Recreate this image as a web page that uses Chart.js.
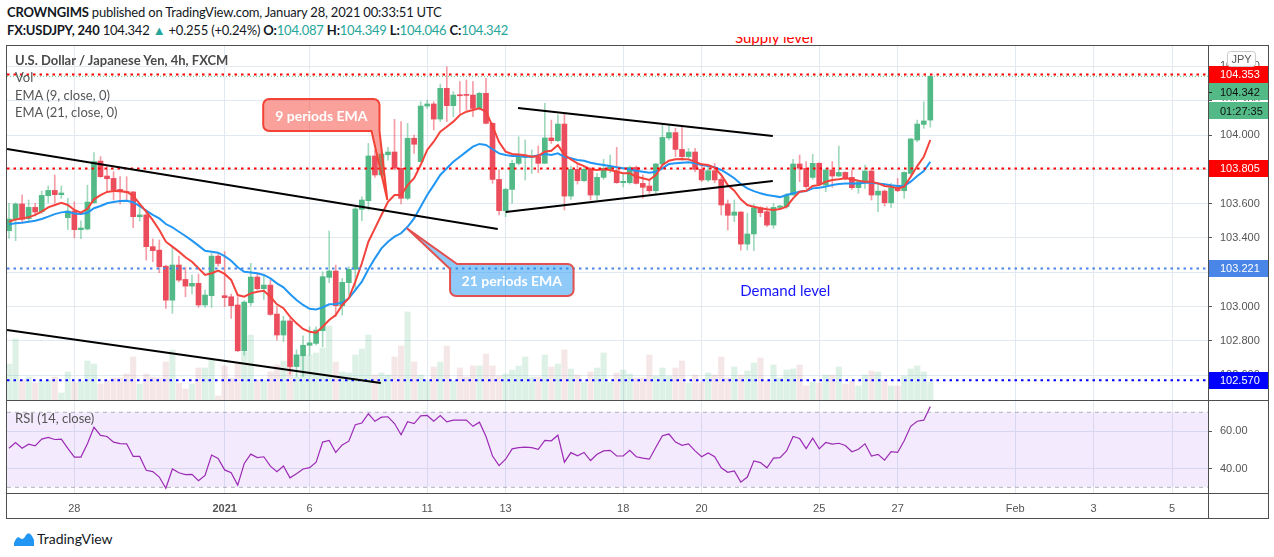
<!DOCTYPE html>
<html>
<head>
<meta charset="utf-8">
<title>USDJPY 4h</title>
<script src="https://cdn.jsdelivr.net/npm/chart.js"></script>
<style>
    body { margin: 0; background: #fff; width: 1274px; height: 557px; overflow: hidden; position: relative; font-family: Lato, "Liberation Sans", sans-serif; }
    .abs { position: absolute; white-space: nowrap; }
    #hdr1 { left: 7px; top: 4px; font-size: 13px; letter-spacing: -0.2px; color: #131722; }
    #hdr2 { left: 7px; top: 22px; font-size: 13px; letter-spacing: -0.2px; color: #131722; }
    .up { color: #26a69a; }
    .ln { position: absolute; background: #4f4f4f; z-index: 5; }
    canvas { position: absolute; left: 0; }
    .legend { left: 15px; font-size: 13px; color: #555; z-index: 4; }
    #supplyClip { left: 700px; top: 37px; width: 160px; height: 8px; overflow: hidden; }
    #supplyClip span { position: absolute; left: 35px; top: -9px; font-size: 15px; color: #f00; }
    #tvlogo { left: 14px; top: 530px; font-size: 14px; color: #131722; display: flex; align-items: center; gap: 3px; }
</style>
</head>
<body>
<div id="hdr1" class="abs"><b>CROWNGIMS</b> published on TradingView.com, January 28, 2021 00:33:51 UTC</div>
<div id="hdr2" class="abs"><b>FX:USDJPY, 240</b> 104.342 <span class="up">&#9650;</span> +0.255 (+0.24%) <b>O:</b><span class="up">104.087</span> <b>H:</b><span class="up">104.349</span> <b>L:</b><span class="up">104.046</span> <b>C:</b><span class="up">104.342</span></div>
<div id="supplyClip" class="abs"><span>Supply level</span></div>

<canvas id="mainChart" width="1268" height="354" style="top:46px"></canvas>
<canvas id="rsiChart" width="1268" height="117" style="top:401px"></canvas>

<div class="abs legend" style="top:52px;font-weight:bold;color:#4a4a4a">U.S. Dollar / Japanese Yen, 4h, FXCM</div>
<div class="abs legend" style="top:69px">Vol</div>
<div class="abs legend" style="top:87px">EMA (9, close, 0)</div>
<div class="abs legend" style="top:104px">EMA (21, close, 0)</div>
<div class="abs legend" style="top:410px">RSI (14, close)</div>

<div class="ln" style="left:6px;top:45px;width:1263px;height:1px"></div>
<div class="ln" style="left:6px;top:518px;width:1263px;height:1px"></div>
<div class="ln" style="left:6px;top:45px;width:1px;height:474px"></div>
<div class="ln" style="left:1268px;top:45px;width:1px;height:474px"></div>
<div class="ln" style="left:6px;top:400px;width:1263px;height:1px"></div>
<div class="ln" style="left:6px;top:493px;width:1263px;height:1px"></div>
<div class="ln" style="left:1208px;top:45px;width:1px;height:474px"></div>

<div id="tvlogo" class="abs">
    <svg width="20" height="14" viewBox="0 0 20 14"><path d="M0 11 Q3 3 6 6 Q9 9 12 3 Q15 -1 18 4 L20 8 L20 14 L0 14 Z" fill="#2196f3"/></svg>
    <span>TradingView</span>
</div>

<script>
// candles, one per 4h bar (index 0 = first bar on screen)
var opens = [
    103.442, 103.508, 103.598, 103.512, 103.578, 103.553, 103.646, 103.677, 103.652, 103.518,
    103.557, 103.448, 103.452, 103.605, 103.848, 103.761, 103.747, 103.683, 103.671, 103.668,
    103.524, 103.534, 103.349, 103.329, 103.235, 103.037, 103.242, 103.158, 103.119, 103.135,
    103.009, 103.063, 103.294, 103.063, 103.057, 103.009, 102.742, 103.022, 103.172, 103.104,
    103.125, 102.956, 102.834, 102.916, 102.650, 102.712, 102.774, 102.785, 102.859, 103.170,
    103.207, 103.005, 103.139, 103.217, 103.567, 103.617, 103.878, 103.767, 103.885, 103.901,
    103.806, 103.631, 103.981, 103.845, 104.169, 104.181, 104.093, 104.272, 104.171, 104.235,
    104.233, 104.233, 104.155, 104.243, 104.068, 103.741, 103.559, 103.683, 103.835, 103.870,
    103.870, 103.874, 103.835, 103.983, 103.967, 104.064, 103.644, 103.800, 103.734, 103.800,
    103.650, 103.753, 103.802, 103.792, 103.722, 103.722, 103.811, 103.718, 103.703, 103.675,
    103.831, 103.983, 104.014, 103.916, 103.874, 103.901, 103.800, 103.738, 103.792, 103.741,
    103.598, 103.532, 103.551, 103.364, 103.423, 103.576, 103.553, 103.475, 103.578, 103.582,
    103.650, 103.831, 103.806, 103.753, 103.835, 103.708, 103.796, 103.761, 103.782, 103.753,
    103.693, 103.728, 103.790, 103.650, 103.673, 103.605, 103.693, 103.675, 103.776, 103.971,
    104.062, 104.087
];
var highs = [
    103.602, 103.605, 103.650, 103.621, 103.602, 103.673, 103.703, 103.767, 103.703, 103.631,
    103.611, 103.500, 103.708, 103.897, 103.874, 103.819, 103.786, 103.757, 103.757, 103.671,
    103.592, 103.563, 103.394, 103.388, 103.242, 103.349, 103.294, 103.228, 103.183, 103.189,
    103.096, 103.310, 103.306, 103.320, 103.073, 103.057, 103.034, 103.252, 103.194, 103.183,
    103.154, 102.999, 102.944, 102.931, 102.747, 102.829, 102.882, 102.882, 103.203, 103.440,
    103.242, 103.164, 103.232, 103.582, 103.640, 103.951, 103.913, 103.913, 103.928, 104.091,
    104.078, 104.068, 104.000, 104.194, 104.204, 104.194, 104.297, 104.398, 104.253, 104.311,
    104.321, 104.311, 104.249, 104.330, 104.072, 103.796, 103.689, 103.854, 103.990, 103.971,
    103.913, 103.936, 104.185, 104.087, 104.117, 104.122, 103.819, 103.835, 103.815, 103.811,
    103.776, 103.858, 103.883, 103.928, 103.776, 103.819, 103.819, 103.767, 103.734, 103.835,
    104.058, 104.058, 104.039, 104.049, 103.922, 103.922, 103.835, 103.825, 103.835, 103.753,
    103.621, 103.621, 103.553, 103.543, 103.598, 103.582, 103.582, 103.602, 103.592, 103.660,
    103.858, 103.883, 103.845, 103.887, 103.839, 103.806, 103.845, 103.936, 103.786, 103.796,
    103.738, 103.825, 103.806, 103.708, 103.679, 103.718, 103.747, 103.786, 103.981, 104.087,
    104.194, 104.349
];
var lows = [
    103.397, 103.384, 103.495, 103.489, 103.528, 103.543, 103.605, 103.605, 103.631, 103.450,
    103.401, 103.396, 103.446, 103.602, 103.753, 103.670, 103.621, 103.598, 103.611, 103.460,
    103.498, 103.271, 103.261, 103.197, 102.989, 102.960, 103.144, 103.057, 103.073, 102.995,
    102.995, 102.995, 103.235, 102.999, 102.931, 102.737, 102.717, 103.003, 103.096, 103.042,
    102.948, 102.804, 102.795, 102.606, 102.592, 102.592, 102.717, 102.776, 102.766, 103.139,
    102.941, 102.950, 103.067, 103.096, 103.500, 103.563, 103.753, 103.757, 103.854, 103.796,
    103.598, 103.621, 103.893, 103.841, 104.155, 104.029, 104.078, 104.078, 104.107, 104.126,
    104.146, 104.107, 104.146, 104.064, 103.718, 103.534, 103.524, 103.602, 103.825, 103.738,
    103.776, 103.780, 103.835, 103.951, 103.961, 103.563, 103.625, 103.714, 103.728, 103.621,
    103.621, 103.741, 103.780, 103.718, 103.697, 103.714, 103.714, 103.631, 103.660, 103.660,
    103.825, 103.971, 103.874, 103.854, 103.854, 103.786, 103.728, 103.728, 103.722, 103.534,
    103.446, 103.495, 103.329, 103.329, 103.326, 103.524, 103.466, 103.456, 103.567, 103.572,
    103.650, 103.728, 103.689, 103.741, 103.708, 103.670, 103.695, 103.757, 103.738, 103.683,
    103.660, 103.689, 103.621, 103.553, 103.586, 103.578, 103.670, 103.631, 103.767, 103.961,
    104.039, 104.046
];
var closes = [
    103.510, 103.598, 103.508, 103.578, 103.551, 103.648, 103.677, 103.652, 103.662, 103.557,
    103.448, 103.458, 103.609, 103.845, 103.757, 103.745, 103.679, 103.668, 103.664, 103.524,
    103.534, 103.349, 103.326, 103.232, 103.037, 103.242, 103.154, 103.119, 103.135, 103.009,
    103.067, 103.294, 103.251, 103.052, 103.005, 102.742, 103.026, 103.172, 103.104, 103.125,
    102.954, 102.834, 102.916, 102.650, 102.718, 102.774, 102.788, 102.863, 103.174, 103.207,
    103.005, 103.141, 103.217, 103.569, 103.621, 103.878, 103.767, 103.889, 103.901, 103.806,
    103.631, 103.981, 103.946, 104.169, 104.181, 104.093, 104.272, 104.171, 104.233, 104.229,
    104.231, 104.155, 104.243, 104.068, 103.741, 103.559, 103.683, 103.835, 103.874, 103.878,
    103.878, 103.835, 103.983, 103.967, 104.064, 103.644, 103.800, 103.734, 103.800, 103.650,
    103.753, 103.806, 103.815, 103.722, 103.730, 103.811, 103.718, 103.695, 103.675, 103.831,
    103.986, 104.014, 103.916, 103.874, 103.901, 103.800, 103.738, 103.792, 103.738, 103.592,
    103.532, 103.551, 103.364, 103.423, 103.576, 103.547, 103.475, 103.578, 103.586, 103.650,
    103.831, 103.806, 103.699, 103.835, 103.714, 103.796, 103.761, 103.782, 103.747, 103.693,
    103.728, 103.790, 103.650, 103.673, 103.605, 103.693, 103.675, 103.782, 103.977, 104.064,
    104.082, 104.342
];
var volumes = [
    36, 61, 20, 23, 17, 19, 20, 23, 7, 28,
    18, 19, 39, 36, 16, 20, 22, 22, 26, 43,
    16, 26, 23, 22, 38, 50, 17, 11, 16, 32,
    32, 40, 4, 34, 22, 36, 48, 65, 20, 20,
    28, 35, 39, 33, 23, 43, 45, 47, 52, 74,
    38, 28, 27, 45, 51, 65, 25, 27, 25, 43,
    54, 88, 38, 25, 19, 33, 38, 54, 19, 32,
    23, 34, 34, 46, 34, 24, 26, 30, 34, 43,
    23, 23, 45, 33, 36, 50, 31, 25, 18, 28,
    32, 47, 18, 27, 30, 26, 22, 22, 45, 24,
    32, 24, 32, 39, 17, 25, 18, 27, 25, 43,
    22, 33, 25, 29, 37, 42, 19, 35, 22, 30,
    31, 35, 14, 18, 17, 25, 25, 33, 16, 19,
    14, 25, 29, 28, 19, 14, 14, 24, 31, 34,
    28, 18
];
var ema9 = [
    103.494, 103.508, 103.514, 103.520, 103.534, 103.553, 103.578, 103.592, 103.605, 103.592,
    103.563, 103.547, 103.570, 103.625, 103.650, 103.668, 103.673, 103.673, 103.668, 103.646,
    103.598, 103.553, 103.504, 103.446, 103.378, 103.349, 103.320, 103.287, 103.261, 103.223,
    103.184, 103.194, 103.209, 103.190, 103.155, 103.067, 103.057, 103.077, 103.086, 103.092,
    103.057, 103.013, 102.990, 102.941, 102.902, 102.869, 102.853, 102.847, 102.882, 102.921,
    102.950, 103.009, 103.048, 103.145, 103.252, 103.378, 103.456, 103.534, 103.611, 103.650,
    103.650, 103.708, 103.748, 103.825, 103.913, 103.961, 104.019, 104.048, 104.078, 104.117,
    104.136, 104.146, 104.156, 104.136, 104.052, 103.959, 103.903, 103.889, 103.887, 103.882,
    103.873, 103.878, 103.903, 103.908, 103.942, 103.883, 103.858, 103.835, 103.819, 103.800,
    103.796, 103.800, 103.796, 103.786, 103.777, 103.777, 103.757, 103.748, 103.738, 103.767,
    103.825, 103.850, 103.858, 103.860, 103.858, 103.844, 103.829, 103.825, 103.809, 103.767,
    103.708, 103.675, 103.625, 103.592, 103.582, 103.573, 103.567, 103.563, 103.568, 103.582,
    103.631, 103.669, 103.675, 103.703, 103.708, 103.728, 103.738, 103.742, 103.748, 103.742,
    103.734, 103.728, 103.728, 103.718, 103.703, 103.699, 103.689, 103.699, 103.757, 103.819,
    103.873, 103.971
];
var ema21 = [
    103.479, 103.485, 103.489, 103.494, 103.500, 103.510, 103.524, 103.539, 103.549, 103.553,
    103.543, 103.539, 103.547, 103.573, 103.586, 103.602, 103.609, 103.615, 103.617, 103.608,
    103.586, 103.559, 103.534, 103.514, 103.481, 103.462, 103.436, 103.411, 103.384, 103.355,
    103.325, 103.320, 103.314, 103.294, 103.267, 103.229, 103.203, 103.199, 103.194, 103.184,
    103.164, 103.135, 103.112, 103.073, 103.038, 103.009, 102.987, 102.983, 102.995, 103.013,
    103.015, 103.022, 103.048, 103.096, 103.145, 103.217, 103.281, 103.339, 103.378, 103.407,
    103.427, 103.465, 103.514, 103.582, 103.650, 103.708, 103.767, 103.806, 103.844, 103.873,
    103.903, 103.932, 103.948, 103.942, 103.917, 103.893, 103.883, 103.878, 103.878, 103.873,
    103.873, 103.882, 103.889, 103.883, 103.893, 103.873, 103.864, 103.854, 103.850, 103.838,
    103.831, 103.825, 103.819, 103.812, 103.806, 103.800, 103.792, 103.786, 103.780, 103.786,
    103.806, 103.831, 103.835, 103.838, 103.841, 103.835, 103.825, 103.819, 103.812, 103.796,
    103.773, 103.748, 103.714, 103.689, 103.673, 103.660, 103.650, 103.644, 103.638, 103.650,
    103.660, 103.669, 103.673, 103.689, 103.693, 103.699, 103.708, 103.714, 103.718, 103.718,
    103.718, 103.722, 103.722, 103.718, 103.713, 103.707, 103.703, 103.703, 103.728, 103.761,
    103.790, 103.844
];
var rsi14 = [
    50.8, 53.9, 50.8, 53.0, 52.1, 55.7, 56.6, 55.5, 55.7, 50.8,
    46.1, 46.1, 53.2, 62.0, 57.7, 57.1, 54.1, 53.3, 53.2, 46.5,
    46.5, 39.1, 38.4, 35.5, 29.5, 39.8, 37.8, 36.8, 36.9, 33.5,
    36.4, 47.2, 45.4, 39.3, 37.8, 31.2, 42.7, 47.7, 45.9, 46.3,
    41.3, 38.4, 41.4, 35.1, 37.3, 39.8, 40.5, 43.4, 54.1, 55.0,
    48.6, 52.6, 54.6, 63.4, 64.3, 69.2, 65.2, 67.4, 67.6, 64.0,
    58.0, 65.0, 64.0, 68.1, 68.3, 65.2, 68.3, 64.9, 65.8, 65.8,
    65.8, 62.5, 64.7, 57.1, 46.7, 41.6, 45.0, 50.5, 51.2, 51.4,
    51.2, 50.3, 55.0, 54.8, 57.8, 43.4, 48.5, 46.8, 48.6, 44.3,
    47.6, 49.4, 49.7, 46.7, 46.7, 49.7, 46.3, 45.6, 45.0, 51.4,
    57.5, 58.4, 54.1, 52.4, 53.2, 49.4, 46.3, 48.3, 46.3, 40.4,
    38.0, 38.7, 32.8, 35.5, 44.1, 43.2, 40.4, 45.6, 45.8, 49.4,
    57.1, 56.0, 50.6, 56.2, 50.5, 53.9, 53.0, 53.5, 52.3, 49.0,
    50.3, 53.2, 46.7, 47.6, 44.5, 49.0, 48.6, 54.8, 62.5, 65.2,
    65.8, 73.0
];

// time axis: bar index where each date label sits
var dateTickPos = [10, 33, 46, 64, 76, 94, 106, 124, 136, 154, 166, 178];
var dateTickLabels = ["28", "2021", "6", "11", "13", "18", "20", "25", "27", "Feb", "3", "5"];
var priceTicks = [102.6, 102.8, 103.0, 103.2, 103.4, 103.6, 103.8, 104.0, 104.2, 104.4];
var rsiTicks = [40, 60];
var rsiBands = [70, 30];

// horizontal levels drawn on the chart
var levelPrices = [104.353, 103.805, 103.221, 102.570];
var levelColors = ["#ff0000", "#ff0000", "#4a86e8", "#0000ff"];
var lastPrice = 104.342;
var lastCountdown = "01:27:35";

// trend lines [startIndex, startPrice, endIndex, endPrice]
var trendLines = [
    [-0.3, 103.918, 74.8, 103.452],
    [-0.3, 102.863, 56.9, 102.554],
    [77.9, 104.157, 116.9, 103.994],
    [76.0, 103.551, 116.9, 103.732]
];

var xMin = -0.31, xMax = 183.5;
var gridColor = "#e2e9f0";
var upColor = "#53b987", downColor = "#eb4d5c";
var axisFont = { family: "Liberation Sans", size: 11 };

var emaNotes = [
    { text: "9 periods EMA", from: [38.9, 104.210], to: [56.7, 104.023], tip: [57.9, 103.621], corner: "bottomRight",
      fill: "rgba(244,67,54,0.5)", stroke: "#f44336" },
    { text: "21 periods EMA", from: [67.5, 103.248], to: [86.4, 103.061], tip: [60.9, 103.456], corner: "topLeft",
      fill: "rgba(33,150,243,0.5)", stroke: "#e35050" }
];
var demandNote = { text: "Demand level", x: 118.8, y: 103.090 };

var idx = closes.map(function (c, i) { return i; });
function candleColor(i) { return closes[i] >= opens[i] ? upColor : downColor; }

function roundedPath(ctx, l, t, r, b, rr, n, tip) {
    ctx.beginPath();
    if (n.corner === "bottomRight") {
        ctx.moveTo(l + rr, t);
        ctx.lineTo(r - rr, t);
        ctx.arcTo(r, t, r, t + rr, rr);
        ctx.lineTo(r, b);
        ctx.lineTo(tip.x, tip.y);
        ctx.lineTo(r - 8, b);
        ctx.lineTo(l + rr, b);
        ctx.arcTo(l, b, l, b - rr, rr);
        ctx.lineTo(l, t + rr);
        ctx.arcTo(l, t, l + rr, t, rr);
    } else {
        ctx.moveTo(l, t + 5);
        ctx.lineTo(tip.x, tip.y);
        ctx.lineTo(l + 7, t);
        ctx.lineTo(r - rr, t);
        ctx.arcTo(r, t, r, t + rr, rr);
        ctx.lineTo(r, b - rr);
        ctx.arcTo(r, b, r - rr, b, rr);
        ctx.lineTo(l + rr, b);
        ctx.arcTo(l, b, l, b - rr, rr);
    }
    ctx.closePath();
}

function drawCallout(ctx, xs, ys, n) {
    var l = xs.getPixelForValue(n.from[0]), r = xs.getPixelForValue(n.to[0]);
    var t = ys.getPixelForValue(n.from[1]), b = ys.getPixelForValue(n.to[1]);
    var tip = { x: xs.getPixelForValue(n.tip[0]), y: ys.getPixelForValue(n.tip[1]) };
    roundedPath(ctx, l, t, r, b, 6, n, tip);
    ctx.fillStyle = n.fill;
    ctx.fill();
    ctx.lineWidth = 2;
    ctx.strokeStyle = n.stroke;
    ctx.stroke();
    ctx.fillStyle = "#fff";
    ctx.font = "bold 14px Lato";
    ctx.textAlign = "center";
    ctx.textBaseline = "middle";
    ctx.fillText(n.text, (l + r) / 2, (t + b) / 2 + 1);
}

function axisTag(ctx, area, width, y, bg, fg, text) {
    ctx.fillStyle = bg;
    ctx.fillRect(area.right, Math.round(y - 8.5), width - area.right, 17);
    ctx.fillStyle = fg;
    ctx.font = "11px 'Liberation Sans'";
    ctx.textAlign = "left";
    ctx.textBaseline = "middle";
    ctx.fillText(text, area.right + 12, y + 0.5);
}

var overlayPlugin = {
    id: "overlay",
    afterDatasetsDraw: function (chart) {
        var ctx = chart.ctx, xs = chart.scales.x, ys = chart.scales.y;
        ctx.save();
        emaNotes.forEach(function (n) { drawCallout(ctx, xs, ys, n); });
        ctx.fillStyle = "#1515ff";
        ctx.font = "15px Lato";
        ctx.textAlign = "center";
        ctx.textBaseline = "middle";
        ctx.fillText(demandNote.text, xs.getPixelForValue(demandNote.x), ys.getPixelForValue(demandNote.y));
        ctx.restore();
    },
    afterDraw: function (chart) {
        var ctx = chart.ctx, ys = chart.scales.y, area = chart.chartArea, w = chart.width;
        ctx.save();
        levelPrices.forEach(function (p, i) {
            axisTag(ctx, area, w, ys.getPixelForValue(p), levelColors[i], "#fff", p.toFixed(3));
        });
        // last price + countdown sit just under the top level tag
        var yTop = ys.getPixelForValue(levelPrices[0]);
        axisTag(ctx, area, w, yTop + 17.5, upColor, "#111", lastPrice.toFixed(3));
        axisTag(ctx, area, w, yTop + 36.5, upColor, "#111", lastCountdown);
        ctx.fillStyle = "#fff";
        ctx.fillRect(area.right, Math.round(yTop + 26.5), w - area.right, 1);
        ctx.fillStyle = "#222";
        ctx.fillRect(area.right, Math.round(yTop + 17.5), 4, 1);
        // currency badge
        ctx.fillStyle = "#fff";
        ctx.strokeStyle = "#c9c9c9";
        ctx.lineWidth = 1;
        ctx.beginPath();
        ctx.roundRect(area.right + 19.5, area.top + 5.5, 28, 15, 3);
        ctx.fill();
        ctx.stroke();
        ctx.fillStyle = "#555";
        ctx.font = "11px 'Liberation Sans'";
        ctx.textAlign = "center";
        ctx.textBaseline = "middle";
        ctx.fillText("JPY", area.right + 33.5, area.top + 13.5);
        ctx.restore();
    }
};

function fixWidth(s) { s.width = 60; s.paddingTop = 0; s.paddingBottom = 0; }

var mainDatasets = [
    {
        type: "bar", label: "Vol", yAxisID: "yv", order: 10, grouped: false, barThickness: 5.5,
        data: idx.map(function (i) { return { x: i, y: volumes[i] }; }),
        backgroundColor: idx.map(function (i) { return closes[i] >= opens[i] ? "rgba(83,185,135,0.2)" : "rgba(200,120,130,0.18)"; })
    },
    {
        type: "bar", label: "wick", yAxisID: "y", order: 6, grouped: false, barThickness: 1, minBarLength: 1,
        data: idx.map(function (i) { return { x: i, y: [lows[i], highs[i]] }; }),
        backgroundColor: idx.map(function (i) { return closes[i] >= opens[i] ? "rgba(83,185,135,0.55)" : "rgba(235,77,92,0.55)"; })
    },
    {
        type: "bar", label: "body", yAxisID: "y", order: 5, grouped: false, barThickness: 5, minBarLength: 1,
        data: idx.map(function (i) { return { x: i, y: [opens[i], closes[i]] }; }),
        backgroundColor: idx.map(candleColor)
    },
    {
        type: "line", label: "EMA 21", yAxisID: "y", order: 4,
        data: idx.map(function (i) { return { x: i, y: ema21[i] }; }),
        borderColor: "#2196f3", borderWidth: 2, pointRadius: 0, tension: 0
    },
    {
        type: "line", label: "EMA 9", yAxisID: "y", order: 3,
        data: idx.map(function (i) { return { x: i, y: ema9[i] }; }),
        borderColor: "#f4433c", borderWidth: 2, pointRadius: 0, tension: 0
    },
    {
        type: "line", label: "last", yAxisID: "y", order: 2,
        data: [{ x: xMin, y: lastPrice }, { x: xMax, y: lastPrice }],
        borderColor: "rgba(83,185,135,0.9)", borderWidth: 1, borderDash: [1, 2], pointRadius: 0
    }
];
levelPrices.forEach(function (p, i) {
    mainDatasets.push({
        type: "line", label: "level", yAxisID: "y", order: 1,
        data: [{ x: xMin, y: p }, { x: xMax, y: p }],
        borderColor: levelColors[i], borderWidth: 2, borderDash: [2.5, 4], pointRadius: 0
    });
});
trendLines.forEach(function (t) {
    mainDatasets.push({
        type: "line", label: "trend", yAxisID: "y", order: 0,
        data: [{ x: t[0], y: t[1] }, { x: t[2], y: t[3] }],
        borderColor: "#000", borderWidth: 2, pointRadius: 0
    });
});

new Chart(document.getElementById("mainChart"), {
    type: "bar",
    data: { datasets: mainDatasets },
    options: {
        responsive: false,
        animation: false,
        devicePixelRatio: 1,
        layout: { padding: { left: 7, right: 0, top: 0, bottom: 0 } },
        plugins: { legend: { display: false }, tooltip: { enabled: false } },
        scales: {
            x: {
                type: "linear", min: xMin, max: xMax, offset: false,
                grid: { color: gridColor, drawTicks: false, offset: false },
                border: { display: false },
                ticks: { display: false },
                afterBuildTicks: function (s) { s.ticks = dateTickPos.map(function (v) { return { value: v }; }); },
                afterFit: function (s) { s.height = 0; s.paddingLeft = 0; s.paddingRight = 0; }
            },
            y: {
                position: "right", min: 102.455, max: 104.519,
                grid: { color: gridColor, tickColor: "#555", tickLength: 4 },
                border: { display: false },
                ticks: { color: "#555", font: axisFont, padding: 8, callback: function (v) { return v.toFixed(3); } },
                afterBuildTicks: function (s) { s.ticks = priceTicks.map(function (v) { return { value: v }; }); },
                afterFit: fixWidth
            },
            yv: { display: false, min: 0, max: 354 }
        }
    },
    plugins: [overlayPlugin]
});

new Chart(document.getElementById("rsiChart"), {
    type: "line",
    data: {
        datasets: [
            {
                label: "RSI", order: 0,
                data: idx.map(function (i) { return { x: i, y: rsi14[i] }; }),
                borderColor: "#9c2bb5", borderWidth: 1.2, pointRadius: 0, tension: 0
            },
            {
                label: "upper", order: 2,
                data: [{ x: xMin, y: rsiBands[0] }, { x: xMax, y: rsiBands[0] }],
                borderColor: "rgba(120,123,134,0.55)", borderWidth: 1, borderDash: [4, 4], pointRadius: 0
            },
            {
                label: "lower", order: 1, fill: "-1",
                data: [{ x: xMin, y: rsiBands[1] }, { x: xMax, y: rsiBands[1] }],
                backgroundColor: "rgba(155,80,235,0.12)",
                borderColor: "rgba(120,123,134,0.55)", borderWidth: 1, borderDash: [4, 4], pointRadius: 0
            }
        ]
    },
    options: {
        responsive: false,
        animation: false,
        devicePixelRatio: 1,
        layout: { padding: { left: 7, right: 0, top: 0, bottom: 0 } },
        plugins: { legend: { display: false }, tooltip: { enabled: false } },
        scales: {
            x: {
                type: "linear", min: xMin, max: xMax, offset: false,
                grid: { color: gridColor, drawTicks: false },
                border: { display: false },
                ticks: {
                    color: "#555", padding: 9, maxRotation: 0, autoSkip: false,
                    font: function (c) {
                        var bold = c.tick && dateTickLabels[dateTickPos.indexOf(c.tick.value)] === "2021";
                        return { family: "Liberation Sans", size: 11, weight: bold ? "bold" : "normal" };
                    },
                    callback: function (v) { return dateTickLabels[dateTickPos.indexOf(v)]; }
                },
                afterBuildTicks: function (s) { s.ticks = dateTickPos.map(function (v) { return { value: v }; }); },
                afterFit: function (s) { s.height = 25; s.paddingLeft = 0; s.paddingRight = 0; }
            },
            y: {
                position: "right", min: 27, max: 76,
                grid: { color: gridColor, tickColor: "#555", tickLength: 4 },
                border: { display: false },
                ticks: { color: "#555", font: axisFont, padding: 8, callback: function (v) { return v.toFixed(2); } },
                afterBuildTicks: function (s) { s.ticks = rsiTicks.map(function (v) { return { value: v }; }); },
                afterFit: fixWidth
            }
        }
    }
});
</script>
</body>
</html>
